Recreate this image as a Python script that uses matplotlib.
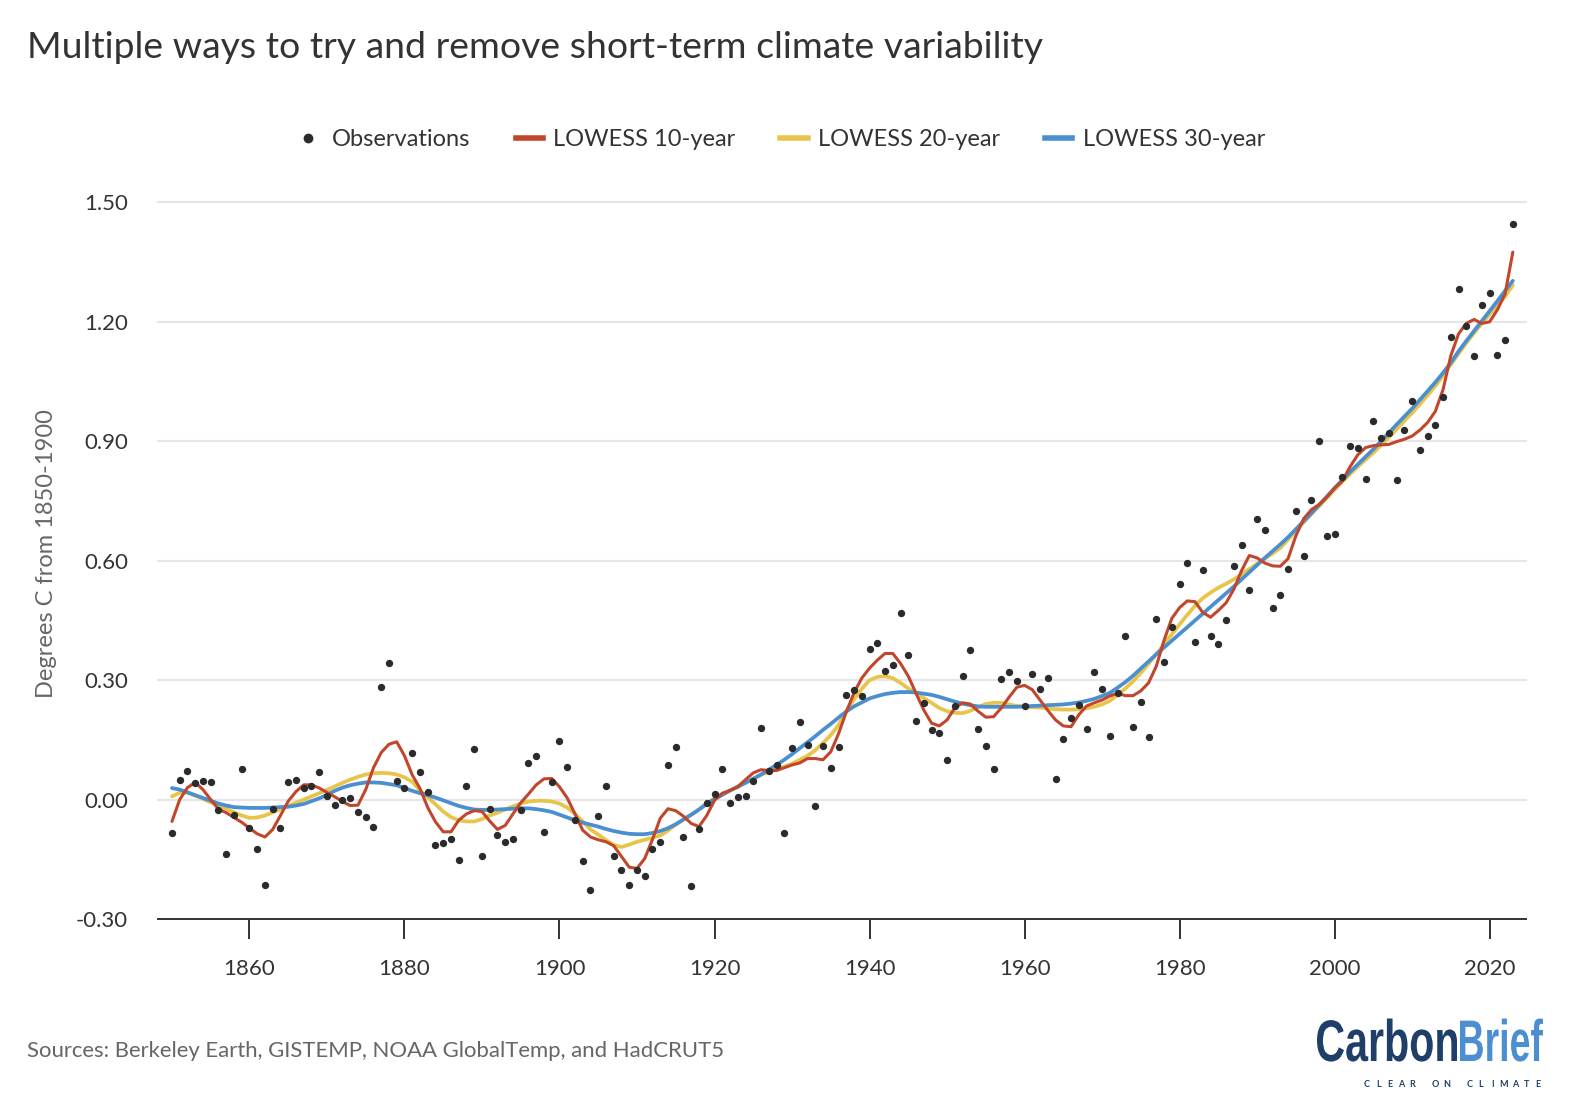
import numpy as np
import matplotlib
matplotlib.use("Agg")
import matplotlib.pyplot as plt
from matplotlib.lines import Line2D
from matplotlib.textpath import TextPath
from matplotlib.font_manager import FontProperties
from matplotlib.patches import PathPatch
from matplotlib.path import Path
from matplotlib.transforms import IdentityTransform

# ---------------- data ----------------
years = list(range(1850, 2024))

observations = [
    -0.084, 0.050, 0.072, 0.041, 0.047, 0.043, -0.025, -0.136, -0.038, 0.078,   # 1850s
    -0.071, -0.124, -0.214, -0.024, -0.072, 0.043, 0.048, 0.029, 0.033, 0.068,  # 1860s
    0.009, -0.014, -0.001, 0.005, -0.032, -0.043, -0.068, 0.283, 0.343, 0.046,  # 1870s
    0.028, 0.118, 0.068, 0.018, -0.115, -0.110, -0.099, -0.153, 0.035, 0.128,   # 1880s
    -0.141, -0.024, -0.088, -0.106, -0.098, -0.027, 0.092, 0.109, -0.081, 0.043,  # 1890s
    0.147, 0.083, -0.051, -0.154, -0.228, -0.042, 0.034, -0.141, -0.177, -0.214,  # 1900s
    -0.178, -0.193, -0.123, -0.106, 0.087, 0.133, -0.093, -0.216, -0.074, -0.009,  # 1910s
    0.013, 0.078, -0.008, 0.006, 0.010, 0.047, 0.181, 0.073, 0.088, -0.084,     # 1920s
    0.129, 0.195, 0.138, -0.015, 0.134, 0.080, 0.132, 0.262, 0.275, 0.260,      # 1930s
    0.379, 0.393, 0.323, 0.338, 0.469, 0.363, 0.198, 0.243, 0.175, 0.168,       # 1940s
    0.099, 0.235, 0.311, 0.376, 0.177, 0.135, 0.076, 0.303, 0.321, 0.298,       # 1950s
    0.236, 0.315, 0.278, 0.305, 0.051, 0.152, 0.204, 0.237, 0.177, 0.320,       # 1960s
    0.277, 0.160, 0.268, 0.411, 0.183, 0.245, 0.156, 0.454, 0.345, 0.434,       # 1970s
    0.542, 0.595, 0.395, 0.576, 0.412, 0.392, 0.451, 0.587, 0.640, 0.526,       # 1980s
    0.705, 0.678, 0.481, 0.515, 0.580, 0.726, 0.612, 0.752, 0.900, 0.661,       # 1990s
    0.667, 0.810, 0.888, 0.883, 0.805, 0.950, 0.909, 0.922, 0.802, 0.928,       # 2000s
    1.002, 0.878, 0.913, 0.942, 1.011, 1.162, 1.282, 1.190, 1.115, 1.242,       # 2010s
    1.273, 1.116, 1.155, 1.445,                                                 # 2020s
]

lowess_10 = [
    -0.055, 0.000, 0.030, 0.043, 0.025, 0.000, -0.024, -0.033, -0.045, -0.057,
    -0.072, -0.086, -0.094, -0.075, -0.040, -0.004, 0.020, 0.037, 0.037, 0.029,
    0.018, 0.007, -0.005, -0.015, -0.014, 0.025, 0.080, 0.118, 0.139, 0.145,
    0.110, 0.062, 0.028, -0.020, -0.056, -0.081, -0.081, -0.052, -0.036, -0.028,
    -0.030, -0.054, -0.075, -0.065, -0.036, -0.008, 0.014, 0.037, 0.052, 0.053,
    0.032, 0.004, -0.036, -0.077, -0.094, -0.101, -0.106, -0.116, -0.143, -0.170,
    -0.173, -0.148, -0.100, -0.047, -0.023, -0.028, -0.042, -0.060, -0.068, -0.040,
    -0.002, 0.016, 0.023, 0.032, 0.050, 0.067, 0.075, 0.073, 0.073, 0.080,
    0.087, 0.092, 0.103, 0.103, 0.100, 0.120, 0.165, 0.220, 0.268, 0.305,
    0.330, 0.350, 0.367, 0.367, 0.342, 0.310, 0.267, 0.225, 0.192, 0.185,
    0.200, 0.230, 0.243, 0.240, 0.222, 0.207, 0.208, 0.230, 0.257, 0.282,
    0.287, 0.276, 0.250, 0.224, 0.200, 0.185, 0.183, 0.213, 0.235, 0.243,
    0.250, 0.260, 0.267, 0.261, 0.261, 0.273, 0.293, 0.335, 0.400, 0.455,
    0.482, 0.499, 0.497, 0.470, 0.458, 0.475, 0.494, 0.528, 0.575, 0.613,
    0.607, 0.594, 0.587, 0.586, 0.605, 0.662, 0.705, 0.728, 0.741, 0.760,
    0.783, 0.800, 0.836, 0.866, 0.884, 0.889, 0.891, 0.892, 0.899, 0.905,
    0.913, 0.928, 0.947, 0.975, 1.030, 1.115, 1.170, 1.196, 1.206, 1.196,
    1.200, 1.230, 1.270, 1.375,
]

lowess_20 = [
    0.008, 0.017, 0.018, 0.010, 0.002, -0.007, -0.015, -0.023, -0.032, -0.040,
    -0.046, -0.045, -0.040, -0.032, -0.024, -0.016, -0.008, 0.000, 0.008, 0.016,
    0.024, 0.033, 0.042, 0.050, 0.057, 0.063, 0.066, 0.067, 0.066, 0.063,
    0.056, 0.045, 0.023, 0.006, -0.012, -0.030, -0.044, -0.052, -0.055, -0.055,
    -0.049, -0.040, -0.033, -0.025, -0.017, -0.010, -0.005, -0.003, -0.003, -0.005,
    -0.010, -0.020, -0.036, -0.055, -0.075, -0.088, -0.102, -0.114, -0.119, -0.113,
    -0.106, -0.101, -0.096, -0.090, -0.078, -0.063, -0.050, -0.038, -0.025, -0.009,
    0.003, 0.012, 0.022, 0.033, 0.043, 0.053, 0.062, 0.070, 0.076, 0.083,
    0.090, 0.100, 0.110, 0.124, 0.142, 0.162, 0.187, 0.222, 0.252, 0.278,
    0.300, 0.308, 0.310, 0.305, 0.293, 0.279, 0.267, 0.255, 0.243, 0.230,
    0.222, 0.218, 0.217, 0.223, 0.232, 0.240, 0.243, 0.243, 0.239, 0.235,
    0.233, 0.232, 0.231, 0.229, 0.227, 0.226, 0.226, 0.227, 0.229, 0.233,
    0.239, 0.248, 0.263, 0.279, 0.297, 0.318, 0.341, 0.365, 0.390, 0.415,
    0.440, 0.464, 0.487, 0.506, 0.520, 0.532, 0.542, 0.553, 0.566, 0.579,
    0.592, 0.605, 0.618, 0.632, 0.653, 0.675, 0.696, 0.717, 0.737, 0.757,
    0.778, 0.798, 0.818, 0.836, 0.854, 0.871, 0.890, 0.910, 0.930, 0.951,
    0.971, 0.993, 1.015, 1.039, 1.065, 1.093, 1.120, 1.147, 1.172, 1.196,
    1.219, 1.241, 1.264, 1.292,
]

lowess_30 = [
    0.029, 0.025, 0.018, 0.011, 0.004, -0.003, -0.010, -0.015, -0.019, -0.020,
    -0.021, -0.021, -0.021, -0.020, -0.019, -0.018, -0.015, -0.011, -0.004, 0.003,
    0.012, 0.022, 0.030, 0.036, 0.040, 0.043, 0.043, 0.042, 0.039, 0.036,
    0.029, 0.022, 0.016, 0.011, 0.005, -0.002, -0.009, -0.016, -0.021, -0.025,
    -0.026, -0.026, -0.025, -0.024, -0.023, -0.022, -0.022, -0.024, -0.027, -0.031,
    -0.038, -0.045, -0.052, -0.058, -0.063, -0.068, -0.074, -0.079, -0.083, -0.086,
    -0.087, -0.087, -0.084, -0.079, -0.072, -0.062, -0.050, -0.038, -0.025, -0.011,
    0.001, 0.012, 0.023, 0.032, 0.042, 0.052, 0.063, 0.075, 0.087, 0.100,
    0.114, 0.129, 0.144, 0.159, 0.175, 0.190, 0.206, 0.221, 0.234, 0.244,
    0.254, 0.260, 0.265, 0.268, 0.270, 0.270, 0.269, 0.266, 0.263, 0.258,
    0.252, 0.246, 0.241, 0.237, 0.234, 0.233, 0.233, 0.233, 0.233, 0.233,
    0.234, 0.235, 0.236, 0.237, 0.238, 0.239, 0.241, 0.244, 0.248, 0.253,
    0.260, 0.268, 0.281, 0.295, 0.311, 0.329, 0.347, 0.365, 0.382, 0.399,
    0.416, 0.433, 0.450, 0.467, 0.484, 0.501, 0.518, 0.535, 0.553, 0.571,
    0.589, 0.607, 0.624, 0.641, 0.659, 0.679, 0.699, 0.719, 0.740, 0.761,
    0.782, 0.803, 0.823, 0.842, 0.861, 0.880, 0.900, 0.921, 0.942, 0.962,
    0.982, 1.004, 1.026, 1.048, 1.072, 1.097, 1.126, 1.152, 1.177, 1.202,
    1.227, 1.252, 1.278, 1.303,
]

x_ticks = [1860, 1880, 1900, 1920, 1940, 1960, 1980, 2000, 2020]
y_ticks = [-0.30, 0.00, 0.30, 0.60, 0.90, 1.20, 1.50]
y_tick_labels = ["-0.30", "0.00", "0.30", "0.60", "0.90", "1.20", "1.50"]

series_labels = ["Observations", "LOWESS 10-year", "LOWESS 20-year", "LOWESS 30-year"]

title_text = "Multiple ways to try and remove short-term climate variability"
ylabel_text = "Degrees C from 1850-1900"
source_text = "Sources: Berkeley Earth, GISTEMP, NOAA GlobalTemp, and HadCRUT5"

# ---------------- style ----------------
C_RED = "#c1462c"
C_YEL = "#e8c44a"
C_BLU = "#4a8fd0"
C_DOT = "#2b2b2b"
C_TXT = "#333333"
C_GRID = "#e6e6e6"
FONT = "Lato"

plt.rcParams["font.family"] = [FONT, "DejaVu Sans"]
plt.rcParams["axes.unicode_minus"] = False

W, H = 1576, 1102
fig = plt.figure(figsize=(W / 100, H / 100), dpi=100)
fig.patch.set_facecolor("white")

ax_left, ax_right, ax_top, ax_bottom = 158, 1526, 202.4, 919
ax = fig.add_axes([ax_left / W, 1 - ax_bottom / H,
                   (ax_right - ax_left) / W, (ax_bottom - ax_top) / H])

ax.set_xlim(1848.2, 2024.7)
ax.set_ylim(-0.30, 1.50)

for yv in y_ticks[1:]:
    ax.axhline(yv, color=C_GRID, lw=1.5, zorder=0, clip_on=False)

ax.plot(years, lowess_20, color=C_YEL, lw=2.7, zorder=2, solid_capstyle="round")
ax.plot(years, lowess_30, color=C_BLU, lw=2.7, zorder=3, solid_capstyle="round")
ax.plot(years, lowess_10, color=C_RED, lw=2.2, zorder=4, solid_capstyle="round")
ax.scatter(years, observations, s=28, color=C_DOT, zorder=5, linewidths=0)

for s in ["top", "right", "left"]:
    ax.spines[s].set_visible(False)
ax.spines["bottom"].set_color(C_TXT)
ax.spines["bottom"].set_linewidth(1.4)

ax.set_xticks(x_ticks)
ax.set_xticklabels([str(t) for t in x_ticks])
ax.set_yticks(y_ticks)
ax.set_yticklabels(y_tick_labels)
ax.tick_params(axis="x", direction="out", length=14.4, width=1.4, color=C_TXT,
               pad=14.5, labelsize=16, labelcolor=C_TXT)
ax.tick_params(axis="y", length=0, pad=21.6, labelsize=16, labelcolor=C_TXT)

# y label
fig.text(47 / W, 1 - 554 / H, ylabel_text, rotation=90, ha="center", va="center",
         fontsize=17, color="#666666")

# title
fig.text(27 / W, 1 - 48 / H, title_text, ha="left", va="center",
         fontsize=26.9, color=C_TXT)

# legend
handles = [
    Line2D([], [], ls="", marker="o", markersize=6, color=C_DOT),
    Line2D([], [], color=C_RED, lw=4),
    Line2D([], [], color=C_YEL, lw=4),
    Line2D([], [], color=C_BLU, lw=4),
]
fig.legend(handles, series_labels, loc="center", bbox_to_anchor=(780 / W, 1 - 140 / H),
           ncol=4, frameon=False, handlelength=1.15, handletextpad=0.45,
           columnspacing=1.9, fontsize=17, labelcolor=C_TXT)

# footer
fig.text(27 / W, 1 - 1051 / H, source_text, ha="left", va="center",
         fontsize=15.9, color="#666666")

# logo
fp_logo = FontProperties(family=["Liberation Sans Narrow", "Liberation Sans"], weight="bold")


def add_word(word, x0, x1, ytop, ybase, color):
    tp = TextPath((0, 0), word, size=100, prop=fp_logo)
    ext = tp.get_extents()
    sx = (x1 - x0) / ext.width
    sy = (ybase - ytop) / (ext.y1 - 0.0)
    verts = tp.vertices.copy()
    verts[:, 0] = (verts[:, 0] - ext.x0) * sx + x0
    verts[:, 1] = verts[:, 1] * sy + (H - ybase)
    fig.add_artist(PathPatch(Path(verts, tp.codes), transform=IdentityTransform(),
                             facecolor=color, edgecolor="none"))


add_word("Carbon", 1317, 1457, 1018.5, 1061, "#1f3f68")
add_word("Brief", 1460, 1543, 1018.5, 1061, "#4c8fd0")

tag = "CLEAR ON CLIMATE"
adv = (1538 - 1367) / (len(tag) - 1)
for i, ch in enumerate(tag):
    if ch != " ":
        fig.text((1367 + i * adv) / W, 1 - 1084.5 / H, ch, ha="center", va="center",
                 fontsize=6.5, fontweight="bold", color="#1f3f68")

fig.savefig("out.png", dpi=100, facecolor="white")
